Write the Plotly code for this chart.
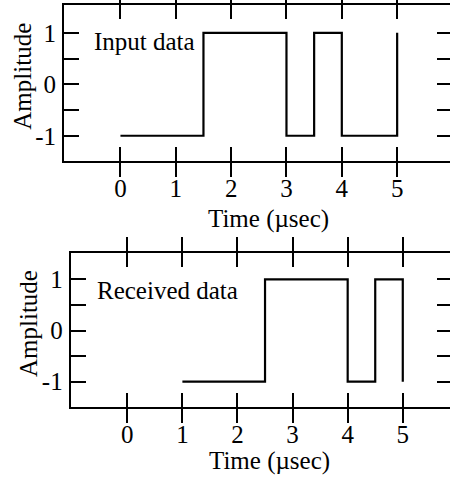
import plotly.graph_objects as go

# Data
input_t = [0, 1.5, 3, 3.5, 4, 5]
input_v = [-1, 1, -1, 1, -1, 1]
recv_t = [1, 2.5, 4, 4.5, 5]
recv_v = [-1, 1, -1, 1, -1]

x_ticks = [0, 1, 2, 3, 4, 5]
y_ticks = [-1, -0.5, 0, 0.5, 1]
y_ticktext = ["-1", "", "0", "", "1"]

W, H = 450, 479
FONT = dict(family="Liberation Serif, Times New Roman, serif", size=25, color="black")

fig = go.Figure()
fig.add_trace(go.Scatter(x=input_t, y=input_v, mode="lines", line=dict(shape="hv", color="black", width=2.2),
                         xaxis="x", yaxis="y", hoverinfo="skip", showlegend=False))
fig.add_trace(go.Scatter(x=recv_t, y=recv_v, mode="lines", line=dict(shape="hv", color="black", width=2.2),
                         xaxis="x2", yaxis="y2", hoverinfo="skip", showlegend=False))
# dummy traces for right-side tick axes
fig.add_trace(go.Scatter(x=[None], y=[None], xaxis="x", yaxis="y3", showlegend=False, hoverinfo="skip"))
fig.add_trace(go.Scatter(x=[None], y=[None], xaxis="x2", yaxis="y4", showlegend=False, hoverinfo="skip"))

def px_x(p):
    return p / W

def px_y(p):
    return 1 - p / H

xcommon = dict(tickmode="array", tickvals=x_ticks, ticks="inside", ticklen=14, tickwidth=2,
               tickcolor="black", showline=True, linecolor="black", linewidth=2, mirror="allticks",
               showgrid=False, zeroline=False, tickfont=FONT, ticklabelstandoff=4, fixedrange=True)
ycommon = dict(tickmode="array", tickvals=y_ticks, ticktext=y_ticktext, ticks="inside", ticklen=15,
               tickwidth=2, tickcolor="black", showline=True, linecolor="black", linewidth=2,
               showgrid=False, zeroline=False, tickfont=FONT, ticklabelstandoff=1, fixedrange=True)
yright = dict(tickmode="array", tickvals=y_ticks, ticks="inside", ticklen=13, tickwidth=2,
              tickcolor="black", showline=False, showticklabels=False, showgrid=False,
              zeroline=False, side="right", fixedrange=True)

top_dom_y = [px_y(161), px_y(5)]
bot_dom_y = [px_y(406.7), px_y(253.3)]

fig.update_layout(
    width=W, height=H,
    margin=dict(l=0, r=0, t=0, b=0),
    paper_bgcolor="white", plot_bgcolor="white",
    showlegend=False,
    xaxis=dict(domain=[px_x(64), 1], range=[-1.02, 5.955], anchor="y", **xcommon),
    yaxis=dict(domain=top_dom_y, range=[-1.49, 1.54], anchor="x", **ycommon),
    xaxis2=dict(domain=[px_x(70.7), 1], range=[-1.027, 5.857], anchor="y2", **xcommon),
    yaxis2=dict(domain=bot_dom_y, range=[-1.49, 1.51], anchor="x2", **ycommon),
    yaxis3=dict(overlaying="y", anchor="x", range=[-1.49, 1.54], **yright),
    yaxis4=dict(overlaying="y2", anchor="x2", range=[-1.49, 1.51], **yright),
)

annots = [
    dict(text="Input data", x=-0.52, y=0.84, xref="x", yref="y", xanchor="left", yanchor="middle"),
    dict(text="Received data", x=-0.59, y=0.79, xref="x2", yref="y2", xanchor="left", yanchor="middle"),
    dict(text="Time (\u00b5sec)", x=px_x(268), y=px_y(218.5), xref="paper", yref="paper",
         xanchor="center", yanchor="middle"),
    dict(text="Time (\u00b5sec)", x=px_x(269), y=px_y(461), xref="paper", yref="paper",
         xanchor="center", yanchor="middle"),
    dict(text="Amplitude", x=px_x(23), y=px_y(76.7), xref="paper", yref="paper",
         xanchor="center", yanchor="middle", textangle=-90),
    dict(text="Amplitude", x=px_x(28), y=px_y(324), xref="paper", yref="paper",
         xanchor="center", yanchor="middle", textangle=-90),
]
for a in annots:
    fig.add_annotation(showarrow=False, font=FONT, **a)

fig.write_html("out.html", config={"displayModeBar": False})
